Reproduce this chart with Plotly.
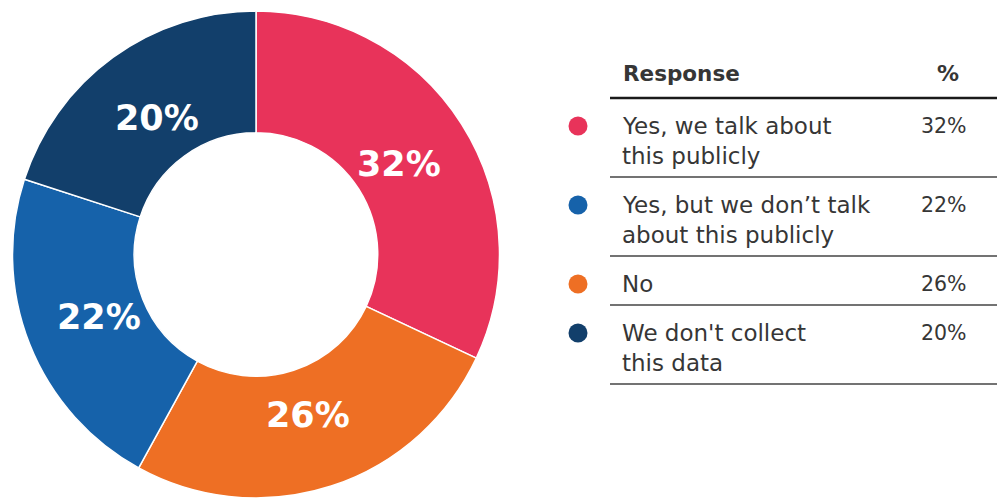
import math
import plotly.graph_objects as go

# Survey responses, listed in table order
responses = [
    ["Yes, we talk about", "this publicly"],
    ["Yes, but we don\u2019t talk", "about this publicly"],
    ["No"],
    ["We don't collect", "this data"],
]
shares = [32, 22, 26, 20]
colors = ["#E8335A", "#1662AA", "#EE6F24", "#123F6B"]

# Donut draws slices clockwise from 12 o'clock in this order
donut_order = [0, 2, 1, 3]

W, H = 997, 498
FONT = "DejaVu Sans"
TEXT = "#363636"

# donut geometry in pixels
CX, CY, R_OUT = 256, 254.5, 243.5
HOLE = 0.5
LABEL_R = 169

fig = go.Figure()

fig.add_trace(go.Pie(
    labels=[" ".join(responses[i]) for i in donut_order],
    values=[shares[i] for i in donut_order],
    marker=dict(colors=[colors[i] for i in donut_order],
                line=dict(color="white", width=1.5)),
    hole=HOLE,
    sort=False,
    direction="clockwise",
    rotation=0,
    textinfo="none",
    domain=dict(x=[(CX - R_OUT) / W, (CX + R_OUT) / W], y=[0, 487 / H]),
    showlegend=False,
    hoverinfo="label+value",
))

def px(x):
    return x / W

def py(y):
    return 1 - y / H

annotations = []
shapes = []

# percentage labels placed at the middle angle of each slice
total = sum(shares)
cum = 0
for i in donut_order:
    mid = (cum + shares[i] / 2) / total * 2 * math.pi
    cum += shares[i]
    lx = CX + LABEL_R * math.sin(mid)
    ly = CY - LABEL_R * math.cos(mid)
    annotations.append(dict(x=px(lx), y=py(ly), text=f"<b>{shares[i]}%</b>", showarrow=False,
                            xanchor="center", yanchor="middle", xref="paper", yref="paper",
                            font=dict(family=FONT, size=35, color="white")))

# table header
annotations.append(dict(x=px(621), y=py(73), text="<b>Response</b>", showarrow=False,
                        xanchor="left", yanchor="middle", xref="paper", yref="paper",
                        font=dict(family=FONT, size=21.5, color=TEXT)))
annotations.append(dict(x=px(948), y=py(74), text="<b>%</b>", showarrow=False,
                        xanchor="center", yanchor="middle", xref="paper", yref="paper",
                        font=dict(family=FONT, size=22, color=TEXT)))

rule_x0, rule_x1 = px(610), 1.0
rule_y = 98
shapes.append(dict(type="line", xref="paper", yref="paper", x0=rule_x0, x1=rule_x1,
                   y0=py(rule_y), y1=py(rule_y), line=dict(color="#1a1a1a", width=2.5)))

dot_x, dot_y = [], []
for lines, share, col in zip(responses, shares, colors):
    first = rule_y + 28
    dot_x.append(px(578))
    dot_y.append(py(first))
    for k, line in enumerate(lines):
        annotations.append(dict(x=px(620), y=py(first + 30 * k), text=line, showarrow=False,
                                xanchor="left", yanchor="middle", xref="paper", yref="paper",
                                font=dict(family=FONT, size=23, color=TEXT)))
    annotations.append(dict(x=px(969), y=py(first), text=f"{share}%", showarrow=False,
                            xanchor="right", yanchor="middle", xref="paper", yref="paper",
                            font=dict(family=FONT, size=20.5, color=TEXT)))
    rule_y = first + 30 * (len(lines) - 1) + 21
    shapes.append(dict(type="line", xref="paper", yref="paper", x0=rule_x0, x1=rule_x1,
                       y0=py(rule_y), y1=py(rule_y), line=dict(color="#444444", width=1.6)))

# coloured markers next to each response
fig.add_trace(go.Scatter(
    x=dot_x, y=dot_y, mode="markers",
    marker=dict(size=19, color=colors, line=dict(width=0)),
    xaxis="x", yaxis="y", showlegend=False, hoverinfo="skip",
))

fig.update_layout(
    width=W, height=H,
    margin=dict(l=0, r=0, t=0, b=0),
    paper_bgcolor="white", plot_bgcolor="rgba(0,0,0,0)",
    xaxis=dict(range=[0, 1], visible=False, fixedrange=True, domain=[0, 1]),
    yaxis=dict(range=[0, 1], visible=False, fixedrange=True, domain=[0, 1]),
    annotations=annotations,
    shapes=shapes,
)

fig.write_html("out.html")
